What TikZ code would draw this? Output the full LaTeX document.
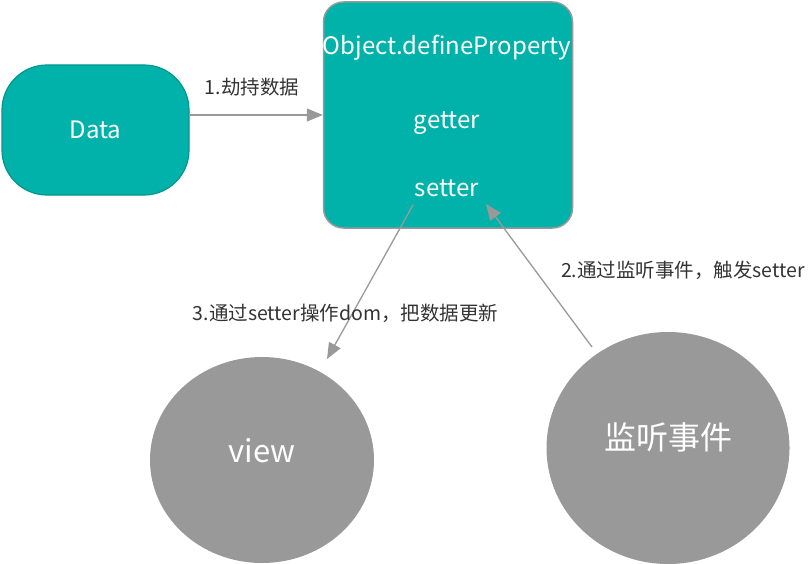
\documentclass[tikz,border=0pt]{standalone}
\usepackage{fontspec}
\setmainfont{Noto Sans CJK SC}
\usetikzlibrary{arrows.meta,shapes.geometric}
\definecolor{turquoise}{RGB}{0, 178, 169}
\definecolor{seagreen}{RGB}{0, 150, 142}
\definecolor{concrete}{RGB}{153, 153, 153}
\definecolor{ink}{RGB}{51, 51, 51}

\tikzset{
    box/.style={fill=turquoise, text=white, inner sep=0pt},
    blob/.style={ellipse, fill=concrete, text=white, inner sep=0pt},
    inbox/.style={text=white, inner sep=0pt, font=\fontsize{24}{28}\selectfont},
    note/.style={text=ink, inner sep=0pt, font=\fontsize{19.5}{22}\selectfont},
    link/.style={draw=concrete, line width=1.3pt, -{Triangle[length=16pt,width=13pt]}}
}

\begin{document}
\begin{tikzpicture}[x=1pt, y=-1pt]
            % Frame
            \useasboundingbox (0, 0) rectangle (810, 564);
            % Data
            \node[box, draw=seagreen, line width=1.2pt, rounded corners=45pt,
                  minimum width=187pt, minimum height=130pt,
                  font=\fontsize{24}{28}\selectfont]              (data)   at ( 95.5, 130.0) {Data};
            % Object.defineProperty
            \node[box, draw=concrete, line width=1.5pt, rounded corners=20pt,
                  minimum width=249pt, minimum height=226pt]      (obj)    at (448.0, 115.0) {};
            \node[inbox]                                          (define) at (447.0,  48.0) {Object.defineProperty};
            \node[inbox]                                          (getter) at (447.0, 123.0) {getter};
            \node[inbox]                                          (setter) at (447.0, 188.0) {setter};
            % view & listener
            \node[blob, minimum width=224pt, minimum height=206pt, text depth=20pt,
                  font=\fontsize{31}{34}\selectfont]              (view)   at (262.0, 460.0) {view};
            \node[blob, minimum width=243pt, minimum height=232pt, text depth=24pt,
                  font=\fontsize{32}{36}\selectfont]              (listen) at (668.0, 448.0) {监听事件};
            % Free ends
            \coordinate (setterOut) at (413.0, 205.0);
            \coordinate (setterIn)  at (486.0, 204.0);
            \coordinate (viewTop)   at (327.0, 359.0);
            \coordinate (listenTop) at (592.0, 347.0);
            % Connectors
            \draw[link] (data.east |- obj.west) -- (obj.west);
            \draw[link] (setterOut) -- (viewTop);
            \draw[link] (listenTop) -- (setterIn);
            % Labels
            \node[note] (hijack) at (252.0,  87.0) {1.劫持数据};
            \node[note] (update) at (345.5, 313.0) {3.通过setter操作dom，把数据更新};
            \node[note] (notify) at (683.0, 270.0) {2.通过监听事件，触发setter};
\end{tikzpicture}
\end{document}
